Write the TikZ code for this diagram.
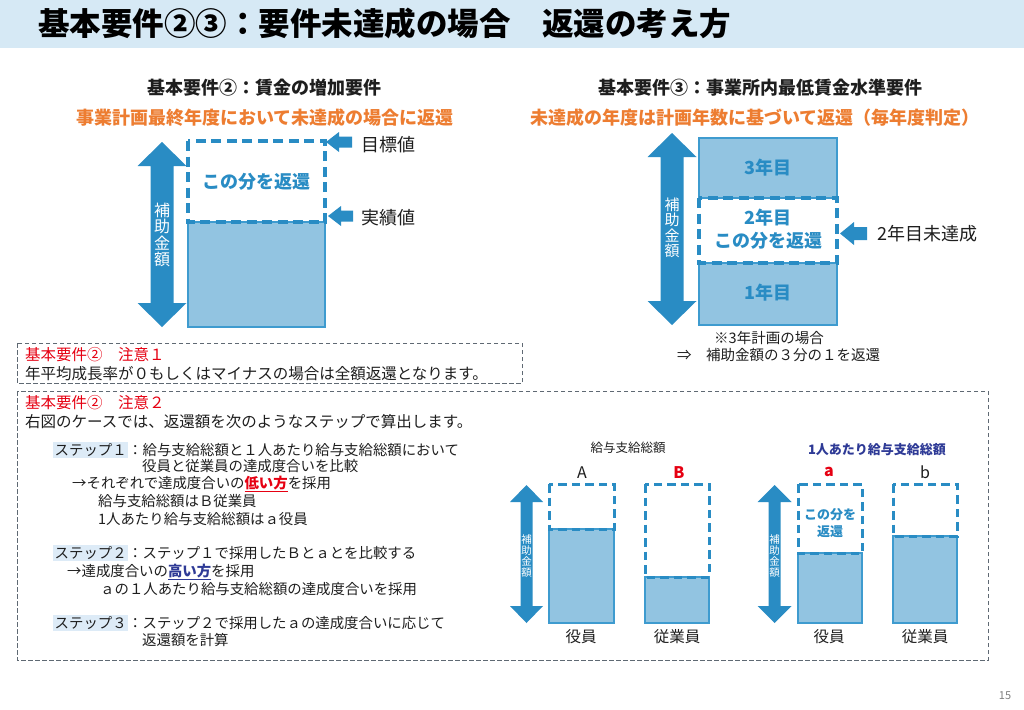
\documentclass[tikz,border=0pt]{standalone}
\usepackage{fontspec}
\setmainfont{Noto Sans CJK JP}
\definecolor{ablue}{RGB}{41,140,196}
\definecolor{lfill}{RGB}{146,196,225}
\definecolor{lborder}{RGB}{62,155,207}
\definecolor{orng}{RGB}{237,125,49}
\definecolor{band}{RGB}{214,233,245}
\definecolor{myred}{RGB}{230,0,18}
\definecolor{dblue}{RGB}{46,58,150}
\definecolor{stepbg}{RGB}{221,235,247}
\definecolor{graydash}{RGB}{95,105,115}
\definecolor{txt}{RGB}{30,30,30}
\newcommand\vdarrow[6]{\fill[ablue] (#1,#2) -- (#1+#5,#2+#6) -- (#1+#4,#2+#6) -- (#1+#4,#3-#6) -- (#1+#5,#3-#6) -- (#1,#3) -- (#1-#5,#3-#6) -- (#1-#4,#3-#6) -- (#1-#4,#2+#6) -- (#1-#5,#2+#6) -- cycle;}
\newcommand\larrow[6]{\fill[ablue] (#1,#2) -- (#1+#6,#2-#5) -- (#1+#6,#2-#4) -- (#1+#3,#2-#4) -- (#1+#3,#2+#4) -- (#1+#6,#2+#4) -- (#1+#6,#2+#5) -- cycle;}
\newcommand\fs[1]{\fontsize{#1}{#1}\selectfont}
\begin{document}
\begin{tikzpicture}[x=1pt,y=-1pt,
  filled/.style={fill=lfill,draw=lborder,line width=1.5pt},
  dbox/.style={draw=ablue,line width=3.2pt,dash pattern=on 10pt off 5.5pt},
  sdbox/.style={draw=ablue,line width=3pt,dash pattern=on 8.5pt off 5pt},
  graybox/.style={draw=graydash,line width=1pt,dash pattern=on 4.5pt off 2.5pt},
  lbl/.style={inner sep=0pt,text=txt},
  vtext/.style={inner sep=0pt,text=white,align=center}]
\useasboundingbox (0,0) rectangle (1024,709);
\fill[white] (0,0) rectangle (1024,709);
% title band
\fill[band] (0,0) rectangle (1024,48);
\node[lbl,anchor=west,font=\fs{31.5}\bfseries,text=black] (title) at (38,23) {基本要件②③：要件未達成の場合　返還の考え方};

% ===== top left =====
\node[lbl,font=\fs{18}\bfseries] (s2) at (264,88) {基本要件②：賃金の増加要件};
\node[lbl,font=\fs{18}\bfseries,text=orng] (o2) at (265,118) {事業計画最終年度において未達成の場合に返還};
\vdarrow{162}{142}{327}{11.5}{24.5}{24}
\node[vtext,font=\fontsize{16}{16.5}\selectfont] (v1) at (162,235) {補\\助\\金\\額};
\draw[filled] (188,222) rectangle (325,327);
\draw[dbox] (188,141) rectangle (325,222);
\node[lbl,font=\fs{18}\bfseries,text=ablue] (r1) at (256,182) {この分を返還};
\larrow{326}{142}{26}{5.5}{10}{13}
\larrow{328}{216}{25}{5.5}{10}{13}
\node[lbl,anchor=west,font=\fs{18}] (goal) at (361,145) {目標値};
\node[lbl,anchor=west,font=\fs{18}] (act) at (361,218) {実績値};

% ===== top right =====
\node[lbl,font=\fs{18}\bfseries] (s3) at (760,88) {基本要件③：事業所内最低賃金水準要件};
\node[lbl,font=\fs{18}\bfseries,text=orng] (o3) at (755,118) {未達成の年度は計画年数に基づいて返還（毎年度判定）};
\vdarrow{672}{133}{325}{11.5}{24.5}{24}
\node[vtext,font=\fontsize{15}{15.5}\selectfont] (v2) at (672,228) {補\\助\\金\\額};
\draw[filled] (699,138) rectangle (837,198);
\draw[filled] (699,263) rectangle (837,325);
\draw[dbox] (699,198) rectangle (837,263);
\node[lbl,font=\fs{18}\bfseries,text=ablue] (y3) at (768,168) {3年目};
\node[lbl,font=\fs{18}\bfseries,text=ablue] (y2) at (768,218) {2年目};
\node[lbl,font=\fs{18}\bfseries,text=ablue] (y2b) at (768,241) {この分を返還};
\node[lbl,font=\fs{18}\bfseries,text=ablue] (y1) at (768,293) {1年目};
\larrow{840}{233.5}{27}{6.5}{11.5}{14}
\node[lbl,anchor=west,font=\fs{18}] (miss) at (877,234) {2年目未達成};
\node[lbl,font=\fs{14.5}] (n3a) at (769,338) {※3年計画の場合};
\node[lbl,anchor=west,font=\fs{14.5}] (n3b) at (677,355) {⇒　補助金額の３分の１を返還};

% ===== note 1 =====
\draw[graybox] (17,343) rectangle (522,383);
\node[lbl,anchor=west,font=\fs{15.5},text=myred] (c1) at (25,355) {基本要件②　注意１};
\node[lbl,anchor=west,font=\fs{15.5}] (c1t) at (25,374) {年平均成長率が０もしくはマイナスの場合は全額返還となります。};

% ===== note 2 =====
\draw[graybox] (17,391) rectangle (988,660);
\node[lbl,anchor=west,font=\fs{15.5},text=myred] (c2) at (25,403) {基本要件②　注意２};
\node[lbl,anchor=west,font=\fs{15.5}] (c2t) at (25,422) {右図のケースでは、返還額を次のようなステップで算出します。};

\setlength{\fboxsep}{1.5pt}
\node[lbl,anchor=west,font=\fs{14.4}] (st1) at (53,450) {\colorbox{stepbg}{ステップ１}：給与支給総額と１人あたり給与支給総額において};
\node[lbl,anchor=west,font=\fs{14.4}] (st1b) at (142,466) {役員と従業員の達成度合いを比較};
\node[lbl,anchor=west,font=\fs{14.4}] (st1c) at (72,484) {→それぞれで達成度合いの{\bfseries\color{myred}\underline{低い方}}を採用};
\node[lbl,anchor=west,font=\fs{14.4}] (st1d) at (98,501) {給与支給総額はＢ従業員};
\node[lbl,anchor=west,font=\fs{14.4}] (st1e) at (98,519) {1人あたり給与支給総額はａ役員};
\node[lbl,anchor=west,font=\fs{14.4}] (st2) at (53,553) {\colorbox{stepbg}{ステップ２}：ステップ１で採用したＢとａとを比較する};
\node[lbl,anchor=west,font=\fs{14.4}] (st2b) at (67,572) {→達成度合いの{\bfseries\color{dblue}\underline{高い方}}を採用};
\node[lbl,anchor=west,font=\fs{14.4}] (st2c) at (100,589) {ａの１人あたり給与支給総額の達成度合いを採用};
\node[lbl,anchor=west,font=\fs{14.4}] (st3) at (53,623) {\colorbox{stepbg}{ステップ３}：ステップ２で採用したａの達成度合いに応じて};
\node[lbl,anchor=west,font=\fs{14.4}] (st3b) at (142,640) {返還額を計算};

% ===== bottom charts =====
\node[lbl,font=\fs{12.5}] (g1) at (628,448) {給与支給総額};
\node[lbl,font=\fs{13}\bfseries,text=dblue] (g2) at (877,450) {1人あたり給与支給総額};
\node[lbl,font=\fs{16}] (lA) at (582,473) {A};
\node[lbl,font=\fs{16}\bfseries,text=myred] (lB) at (679,473) {B};
\node[lbl,font=\fs{16}\bfseries,text=myred] (la) at (829,472) {a};
\node[lbl,font=\fs{16}] (lb) at (925,472) {b};

\vdarrow{526.5}{485}{623}{6}{16.5}{17}
\node[vtext,font=\fontsize{10.5}{11}\selectfont] (v3) at (526.5,556) {補\\助\\金\\額};
\vdarrow{774.5}{485}{623}{6}{17}{17}
\node[vtext,font=\fontsize{10.5}{11}\selectfont] (v4) at (774.5,556) {補\\助\\金\\額};

\draw[filled] (549,529) rectangle (614,623);
\draw[sdbox] (549,484) rectangle (614,529);
\draw[filled] (645,577) rectangle (709,623);
\draw[sdbox] (645,484) rectangle (709,577);
\draw[filled] (798,553) rectangle (862,623);
\draw[sdbox] (798,484) rectangle (862,553);
\draw[filled] (893,536) rectangle (957,623);
\draw[sdbox] (893,484) rectangle (957,536);
\node[lbl,font=\fs{13}\bfseries,text=ablue] (ra1) at (830,515) {この分を};
\node[lbl,font=\fs{13}\bfseries,text=ablue] (ra2) at (830,532) {返還};

\node[lbl,font=\fs{15.5}] (e1) at (581,637) {役員};
\node[lbl,font=\fs{15.5}] (e2) at (677,637) {従業員};
\node[lbl,font=\fs{15.5}] (e3) at (829,637) {役員};
\node[lbl,font=\fs{15.5}] (e4) at (925,637) {従業員};

\node[lbl,font=\fs{11},text=gray] (pg) at (1005,696) {15};
\end{tikzpicture}
\end{document}
